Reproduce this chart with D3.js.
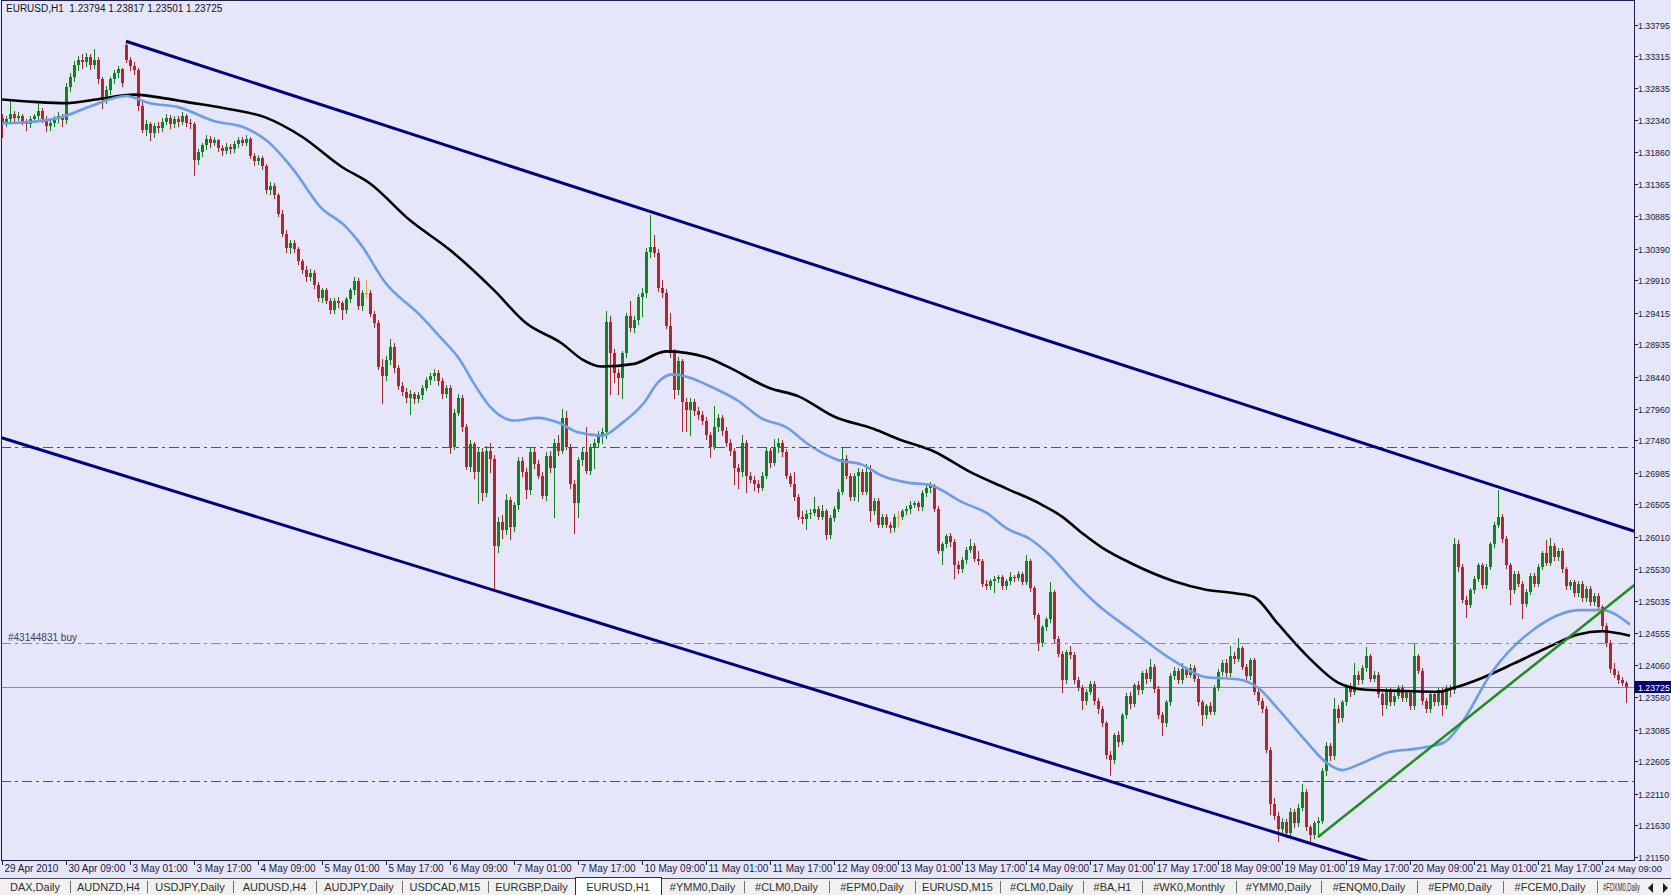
<!DOCTYPE html>
<html><head><meta charset="utf-8">
<script src="https://cdn.jsdelivr.net/npm/d3@7/dist/d3.min.js"></script>
<style>
html,body{margin:0;padding:0;background:#E6E6FA;overflow:hidden}
svg{display:block}
text{font-family:"Liberation Sans",Arial,sans-serif}
</style></head><body><svg id="c" width="1671" height="895"></svg>
<script>
// ---------- DATA (prices in pips: 13238 = 1.3238) ----------
const opens=[
13238,13230,13236,13244,13238,13241,13232,13228,13236,13240,
13248,13236,13226,13230,13236,13240,13234,13284,13300,13318,
13326,13322,13330,13318,13326,13296,13266,13280,13296,13306,
13312,13348,13326,13316,13310,13256,13220,13228,13214,13226,
13222,13232,13238,13228,13236,13232,13240,13230,13228,13174,
13186,13196,13206,13200,13204,13192,13188,13194,13190,13198,
13204,13200,13206,13180,13172,13176,13164,13128,13134,13120,
13092,13062,13040,13048,13038,13020,13006,12996,13002,12984,
12964,12976,12960,12946,12960,12956,12946,12962,12976,12990,
12952,12972,12972,12940,12926,12860,12846,12870,12890,12858,
12830,12822,12812,12818,12810,12816,12828,12840,12846,12850,
12838,12818,12828,12738,12790,12812,12768,12708,12742,12700,
12730,12668,12732,12720,12588,12624,12612,12658,12616,12650,
12716,12700,12672,12730,12712,12694,12664,12724,12706,12744,
12732,12782,12738,12682,12652,12718,12730,12702,12736,12744,
12756,12760,12928,12880,12850,12842,12880,12936,12918,12930,
12966,12972,13034,13042,13032,12980,12972,12922,12880,12824,
12868,12806,12794,12806,12792,12786,12778,12756,12738,12768,
12782,12762,12744,12732,12706,12700,12744,12694,12688,12682,
12676,12694,12731,12714,12738,12744,12730,12694,12682,12662,
12632,12628,12636,12638,12644,12632,12640,12604,12630,12644,
12670,12720,12694,12662,12694,12700,12670,12700,12640,12656,
12620,12632,12620,12614,12632,12632,12640,12644,12650,12652,
12646,12668,12675,12678,12644,12580,12590,12602,12594,12558,
12552,12566,12582,12588,12568,12564,12530,12526,12534,12538,
12540,12526,12534,12540,12539,12545,12533,12564,12523,12482,
12440,12464,12476,12517,12446,12424,12384,12426,12422,12384,
12372,12352,12366,12378,12352,12340,12318,12270,12262,12300,
12290,12330,12360,12348,12376,12368,12394,12386,12404,12370,
12330,12318,12350,12390,12398,12384,12400,12392,12402,12386,
12350,12330,12344,12336,12372,12396,12410,12394,12420,12416,
12432,12404,12390,12414,12366,12352,12340,12278,12196,12178,
12158,12168,12152,12184,12166,12190,12214,12160,12148,12166,
12170,12246,12284,12268,12340,12326,12350,12374,12366,12392,
12384,12402,12420,12386,12392,12362,12346,12368,12350,12360,
12372,12356,12364,12344,12420,12398,12352,12340,12362,12350,
12368,12346,12372,12368,12590,12556,12506,12498,12520,12538,
12558,12528,12556,12590,12620,12632,12598,12558,12520,12545,
12530,12500,12518,12542,12530,12556,12576,12562,12588,12570,
12580,12552,12526,12532,12516,12530,12508,12522,12502,12512,
12494,12466,12440,12400,12392,12384,12379.4];
const highs=[
13244,13240,13264,13248,13246,13244,13236,13240,13244,13264,
13252,13240,13234,13240,13246,13244,13290,13306,13324,13332,
13334,13336,13334,13342,13330,13300,13286,13300,13310,13316,
13314,13354,13330,13322,13314,13262,13234,13232,13230,13232,
13238,13244,13242,13240,13240,13247,13244,13236,13232,13190,
13200,13212,13210,13208,13206,13196,13200,13198,13202,13208,
13208,13212,13208,13184,13182,13180,13168,13140,13138,13124,
13098,13068,13052,13052,13042,13024,13012,13008,13006,12988,
12980,12980,12964,12964,12966,12960,12966,12980,12996,12994,
12976,12991,12976,12944,12930,12872,12876,12902,12896,12862,
12836,12828,12824,12822,12822,12832,12844,12850,12856,12854,
12842,12832,12832,12796,12818,12816,12772,12748,12746,12736,
12736,12740,12744,12726,12632,12634,12666,12662,12654,12722,
12722,12706,12736,12738,12718,12700,12730,12732,12750,12756,
12796,12793,12742,12688,12722,12736,12768,12742,12750,12762,
12766,12945,12936,12886,12856,12884,12942,12960,12936,12970,
12980,13040,13090,13060,13038,12992,12978,12942,12886,12874,
12872,12812,12812,12810,12798,12792,12784,12760,12800,12788,
12786,12768,12750,12736,12712,12756,12748,12700,12694,12688,
12700,12736,12736,12750,12752,12748,12734,12698,12700,12666,
12640,12642,12644,12662,12648,12650,12644,12634,12648,12674,
12737,12726,12698,12698,12706,12704,12712,12710,12660,12660,
12636,12636,12624,12636,12640,12644,12648,12656,12656,12656,
12672,12681,12685,12682,12648,12594,12606,12607,12598,12564,
12570,12586,12598,12592,12580,12568,12536,12538,12542,12544,
12544,12538,12548,12544,12550,12548,12573,12568,12527,12486,
12468,12480,12533,12521,12450,12428,12430,12436,12426,12388,
12376,12370,12382,12382,12356,12344,12322,12276,12304,12306,
12334,12364,12366,12380,12382,12398,12400,12416,12408,12374,
12336,12354,12394,12404,12402,12410,12404,12408,12406,12390,
12354,12348,12350,12376,12400,12414,12416,12436,12426,12448,
12436,12408,12418,12418,12370,12356,12344,12282,12204,12184,
12174,12172,12190,12188,12196,12226,12218,12164,12170,12176,
12250,12290,12288,12356,12346,12354,12378,12380,12410,12398,
12406,12434,12424,12398,12396,12366,12372,12372,12364,12376,
12376,12368,12368,12440,12424,12402,12356,12366,12366,12372,
12372,12376,12376,12600,12596,12560,12512,12524,12542,12562,
12562,12560,12594,12624,12672,12636,12602,12562,12550,12549,
12534,12522,12546,12546,12560,12580,12596,12600,12592,12584,
12584,12556,12536,12536,12534,12534,12526,12526,12516,12516,
12498,12470,12444,12410,12398,12388,12381.7];
const lows=[
13209,13226,13232,13232,13234,13228,13220,13224,13232,13236,
13232,13218,13220,13226,13232,13226,13230,13278,13294,13310,
13314,13316,13312,13314,13290,13252,13260,13274,13290,13300,
13286,13322,13310,13304,13250,13216,13212,13204,13208,13216,
13218,13228,13222,13224,13226,13228,13226,13222,13151,13168,
13180,13190,13194,13196,13188,13182,13184,13184,13186,13194,
13196,13196,13176,13166,13168,13160,13124,13122,13116,13088,
13058,13034,13032,13034,13016,13002,12990,12992,12980,12960,
12958,12956,12942,12942,12950,12932,12942,12958,12970,12948,
12946,12966,12936,12920,12856,12804,12840,12864,12852,12826,
12816,12806,12788,12804,12806,12810,12824,12834,12840,12832,
12812,12814,12728,12734,12786,12762,12704,12702,12690,12652,
12657,12664,12700,12521,12578,12600,12606,12598,12610,12644,
12694,12660,12666,12706,12690,12660,12658,12700,12632,12726,
12728,12734,12676,12607,12632,12710,12698,12696,12706,12740,
12744,12752,12818,12836,12818,12812,12874,12914,12912,12924,
12936,12966,13026,13028,12974,12966,12918,12874,12812,12818,
12762,12762,12756,12786,12780,12772,12750,12722,12734,12762,
12756,12740,12726,12681,12675,12694,12669,12684,12672,12670,
12672,12690,12708,12710,12730,12724,12690,12678,12658,12628,
12622,12613,12630,12634,12628,12628,12598,12600,12626,12640,
12666,12690,12658,12658,12656,12666,12666,12626,12636,12616,
12616,12616,12608,12610,12618,12628,12636,12638,12646,12642,
12642,12664,12670,12640,12576,12560,12586,12588,12539,12546,
12548,12562,12578,12564,12560,12526,12522,12522,12517,12532,
12522,12522,12530,12534,12535,12530,12529,12519,12478,12430,
12436,12460,12472,12442,12420,12365,12380,12418,12380,12368,
12340,12348,12362,12348,12334,12314,12266,12240,12258,12284,
12286,12326,12342,12344,12362,12364,12380,12382,12366,12326,
12300,12314,12346,12386,12380,12380,12388,12388,12382,12346,
12316,12326,12332,12332,12368,12392,12390,12390,12410,12412,
12400,12386,12386,12362,12348,12336,12274,12180,12172,12140,
12150,12146,12148,12160,12162,12186,12156,12140,12144,12146,
12166,12240,12262,12264,12320,12322,12346,12360,12362,12378,
12380,12398,12382,12382,12358,12330,12342,12346,12346,12356,
12352,12352,12340,12340,12394,12348,12336,12336,12346,12346,
12330,12342,12360,12364,12550,12502,12480,12494,12516,12534,
12524,12524,12552,12586,12616,12594,12554,12500,12516,12526,
12478,12496,12514,12526,12526,12552,12558,12558,12566,12566,
12548,12522,12522,12512,12512,12504,12504,12498,12498,12490,
12462,12436,12396,12388,12380,12376,12350.1];
const closes=[
13230,13236,13244,13238,13241,13232,13228,13236,13240,13248,
13236,13226,13230,13236,13240,13234,13284,13300,13318,13326,
13322,13330,13318,13326,13296,13266,13280,13296,13306,13312,
13290,13326,13316,13310,13256,13220,13228,13214,13226,13222,
13232,13238,13228,13236,13232,13240,13230,13228,13174,13186,
13196,13206,13200,13204,13192,13188,13194,13190,13198,13204,
13200,13206,13180,13172,13176,13164,13128,13134,13120,13092,
13062,13040,13048,13038,13020,13006,12996,13002,12984,12964,
12976,12960,12946,12960,12956,12946,12962,12976,12990,12952,
12972,12972,12940,12926,12860,12846,12870,12890,12858,12830,
12822,12812,12818,12810,12816,12828,12840,12846,12850,12838,
12818,12828,12738,12790,12812,12768,12708,12742,12700,12730,
12668,12732,12720,12588,12624,12612,12658,12616,12650,12716,
12700,12672,12730,12712,12694,12664,12724,12706,12744,12732,
12782,12738,12682,12652,12718,12730,12702,12736,12744,12756,
12760,12928,12880,12850,12842,12880,12936,12918,12930,12966,
12972,13034,13042,13032,12980,12972,12922,12880,12824,12868,
12806,12794,12806,12792,12786,12778,12756,12738,12768,12782,
12762,12744,12732,12706,12700,12744,12694,12688,12682,12676,
12694,12731,12714,12738,12744,12730,12694,12682,12662,12632,
12628,12636,12638,12644,12632,12640,12604,12630,12644,12670,
12720,12694,12662,12694,12700,12670,12700,12640,12656,12620,
12632,12620,12614,12632,12632,12640,12644,12650,12652,12646,
12668,12675,12678,12644,12580,12590,12602,12594,12558,12552,
12566,12582,12588,12568,12564,12530,12526,12534,12538,12540,
12526,12534,12540,12539,12545,12533,12564,12523,12482,12440,
12464,12476,12517,12446,12424,12384,12426,12422,12384,12372,
12352,12366,12378,12352,12340,12318,12270,12262,12300,12290,
12330,12360,12348,12376,12368,12394,12386,12404,12370,12330,
12318,12350,12390,12398,12384,12400,12392,12402,12386,12350,
12330,12344,12336,12372,12396,12410,12394,12420,12416,12432,
12404,12390,12414,12366,12352,12340,12278,12196,12178,12158,
12168,12152,12184,12166,12190,12214,12160,12148,12166,12170,
12246,12284,12268,12340,12326,12350,12374,12366,12392,12384,
12402,12420,12386,12392,12362,12346,12368,12350,12360,12372,
12356,12364,12344,12420,12398,12352,12340,12362,12350,12368,
12346,12372,12368,12590,12556,12506,12498,12520,12538,12558,
12528,12556,12590,12620,12632,12598,12558,12520,12545,12530,
12500,12518,12542,12530,12556,12576,12562,12588,12570,12580,
12552,12526,12532,12516,12530,12508,12522,12502,12512,12494,
12466,12440,12400,12392,12384,12379.4,12372.5];

// moving averages (bar index, price in pips)
const blackMABars  =[-1,8,16,24,33,40,46,56,66,75,85,92,102,112,123,131,140,145,150,158,166,176,181,192,199,208,218,224,233,242,251,260,265,270,275,282,293,301,309,313,319,327,334,341,351,359,363,370,378,386,394,400,407];
const blackMAValues=[13266,13262,13260,13266,13273,13268,13262,13252,13238,13209,13163,13138,13082,13037,12976,12926,12895,12871,12860,12864,12883,12874,12861,12827,12815,12784,12765,12750,12731,12700,12675,12650,12632,12607,12585,12562,12534,12521,12515,12510,12469,12416,12380,12369,12367,12366,12372,12387,12409,12432,12453,12458,12451];
const blueMABars   =[-1,9.5,14.5,22,31,37,44,53,61,66,73,79.5,86,89.5,96,104,109.5,114.5,118,122,128,134,139,144,150,155,160.5,164,167.5,172,177,184,190,196,202,209,215,220,226,232,240,246,251.5,257,262,268,274.5,282,293,301,309,314,319,326,331,335,340.5,346,354,360.5,364.5,372.5,383,394.5,400,407];
const blueMAValues =[13229,13233,13238,13255,13271,13260,13254,13233,13222,13204,13158,13103,13072,13047,12986,12941,12905,12870,12834,12799,12778,12782,12775,12760,12755,12774,12805,12836,12848,12843,12830,12808,12781,12768,12740,12718,12711,12694,12684,12680,12654,12638,12613,12598,12573,12533,12495,12461,12413,12388,12385,12372,12340,12291,12259,12247,12259,12273,12280,12289,12315,12396,12461,12490,12490,12468];

// drawn objects (bar index, price)
const upperChannel=[[31,1.3354],[407,1.2612]];
const lowerChannel=[[-0.5,1.27526],[322,1.21453]];
const greenTrend  =[[329,1.21453],[407,1.25226]];
const redLevels   =[1.2738,1.2230];
const buyLevel    =1.2440;
const buyLabel    ="#43144831 buy";
const bidPrice    =1.23725;
const header      ="EURUSD,H1  1.23794 1.23817 1.23501 1.23725";

const xTickLabels=["29 Apr 2010","30 Apr 09:00","3 May 01:00","3 May 17:00","4 May 09:00","5 May 01:00","5 May 17:00","6 May 09:00","7 May 01:00","7 May 17:00","10 May 09:00","11 May 01:00","11 May 17:00","12 May 09:00","13 May 01:00","13 May 17:00","14 May 09:00","17 May 01:00","17 May 17:00","18 May 09:00","19 May 01:00","19 May 17:00","20 May 09:00","21 May 01:00","21 May 17:00","24 May 09:00"];
const xTickEvery=16;
const yTickLabels=["1.33795","1.33315","1.32835","1.32340","1.31860","1.31365","1.30885","1.30390","1.29910","1.29415","1.28935","1.28440","1.27960","1.27480","1.26985","1.26505","1.26010","1.25530","1.25035","1.24555","1.24060","1.23580","1.23085","1.22605","1.22110","1.21630","1.21150"];
const tabs=["DAX,Daily","AUDNZD,H4","USDJPY,Daily","AUDUSD,H4","AUDJPY,Daily","USDCAD,M15","EURGBP,Daily","EURUSD,H1","#YMM0,Daily","#CLM0,Daily","#EPM0,Daily","EURUSD,M15","#CLM0,Daily","#BA,H1","#WK0,Monthly","#YMM0,Daily","#ENQM0,Daily","#EPM0,Daily","#FCEM0,Daily","#FDXM0,Daily"];
const activeTab=7;

// ---------- LAYOUT ----------
const W=1671,H=895;
const plot={l:1,t:1,r:1634,b:860};
const tabEdges=[0,70,147,233,316,402,488,575,661,744,829,915,1000,1083,1142,1236,1321,1417,1503,1597,1644];
const C={bg:"#E6E6FA",frame:"#1c1c4e",txt:"#1a1a40",up:"#10861a",down:"#b3262a",doji:"#e8a040",
  navy:"#00007f",blue:"#6d9ce8",black:"#000000",green:"#1e8e1e",red:"#e01818",lime:"#3cc23c",bid:"#8a8a9a"};

const svg=d3.select("#c");
const x=d3.scaleLinear().domain([0,406]).range([2,1626]);
const y=d3.scaleLinear().domain([1.21150,1.33795]).range([857,24.5]);
const P=v=>v/10000;

svg.append("rect").attr("width",W).attr("height",H).attr("fill",C.bg);
svg.append("defs").append("clipPath").attr("id","clip").append("rect")
  .attr("x",plot.l+1).attr("y",plot.t+1).attr("width",plot.r-plot.l-1).attr("height",plot.b-plot.t-1);
const g=svg.append("g").attr("clip-path","url(#clip)");

// bid line
g.append("line").attr("x1",plot.l).attr("x2",plot.r).attr("y1",Math.round(y(bidPrice))+0.5).attr("y2",Math.round(y(bidPrice))+0.5)
  .attr("stroke",C.bid).attr("stroke-width",1);

// candles
const data=d3.range(closes.length).map(i=>({i,o:P(opens[i]),h:P(highs[i]),l:P(lows[i]),c:P(closes[i])}));
const col=d=>d.c>d.o?C.up:(d.c<d.o?C.down:C.doji);
const cg=g.append("g").attr("shape-rendering","crispEdges");
cg.selectAll("rect.w").data(data).join("rect").attr("class","w")
  .attr("x",d=>Math.round(x(d.i))).attr("width",1)
  .attr("y",d=>Math.round(y(d.h)))
  .attr("height",d=>Math.max(1,Math.round(y(d.l))-Math.round(y(d.h))+1))
  .attr("fill",col);
cg.selectAll("rect.b").data(data).join("rect").attr("class","b")
  .attr("x",d=>Math.round(x(d.i))-1).attr("width",3)
  .attr("y",d=>Math.round(y(Math.max(d.o,d.c))))
  .attr("height",d=>Math.max(1,Math.round(y(Math.min(d.o,d.c)))-Math.round(y(Math.max(d.o,d.c)))))
  .attr("fill",col);

// moving averages
const maLine=d3.line().x(d=>x(d[0])).y(d=>y(P(d[1]))).curve(d3.curveMonotoneX);
g.append("path").attr("d",maLine(blackMABars.map((b,k)=>[b,blackMAValues[k]])))
  .attr("fill","none").attr("stroke",C.black).attr("stroke-width",2.6).attr("stroke-linejoin","round");
g.append("path").attr("d",maLine(blueMABars.map((b,k)=>[b,blueMAValues[k]])))
  .attr("fill","none").attr("stroke",C.blue).attr("stroke-width",2.6).attr("stroke-linejoin","round");

// horizontal levels
const dash="10,4,3,4";
redLevels.forEach(p=>{
  g.append("line").attr("x1",plot.l).attr("x2",plot.r).attr("y1",Math.round(y(p))+0.5).attr("y2",Math.round(y(p))+0.5)
   .attr("stroke",C.red).attr("stroke-width",1.2).attr("stroke-dasharray",dash);
});
g.append("line").attr("x1",plot.l).attr("x2",plot.r).attr("y1",Math.round(y(buyLevel))+0.5).attr("y2",Math.round(y(buyLevel))+0.5)
   .attr("stroke",C.lime).attr("stroke-width",1).attr("stroke-dasharray",dash);
g.append("text").attr("x",8).attr("y",Math.round(y(buyLevel))-2).attr("font-size",10).attr("fill","#3c3c5c").text(buyLabel);

// trend lines
function seg(pts,fromStart,toBar){
  const [a,b]=pts; const s=(b[1]-a[1])/(b[0]-a[0]);
  const b0=fromStart?a[0]:-2, b1=toBar;
  return [[b0,a[1]+s*(b0-a[0])],[b1,a[1]+s*(b1-a[0])]];
}
const tl=d3.line().x(d=>x(d[0])).y(d=>y(d[1]));
g.append("path").attr("d",tl(seg(upperChannel,true,410))).attr("stroke",C.navy).attr("stroke-width",3).attr("fill","none");
g.append("path").attr("d",tl(seg(lowerChannel,false,410))).attr("stroke",C.navy).attr("stroke-width",3).attr("fill","none");
g.append("path").attr("d",tl(seg(greenTrend,true,410))).attr("stroke",C.green).attr("stroke-width",2.5).attr("fill","none");

// header
svg.append("text").attr("x",6).attr("y",12).attr("font-size",10).attr("fill","#101030").attr("xml:space","preserve").text(header);

// frame
svg.append("rect").attr("x",plot.l+0.5).attr("y",plot.t-0.5).attr("width",plot.r-plot.l).attr("height",plot.b-plot.t+0.5)
  .attr("fill","none").attr("stroke",C.frame).attr("stroke-width",1).attr("shape-rendering","crispEdges");

// y axis
const ya=svg.append("g");
yTickLabels.forEach(t=>{
  const yy=Math.round(y(+t))+0.5;
  ya.append("line").attr("x1",plot.r+0.5).attr("x2",plot.r+3.5).attr("y1",yy).attr("y2",yy).attr("stroke",C.frame).attr("shape-rendering","crispEdges");
  ya.append("text").attr("x",plot.r+4).attr("y",yy+3.5).attr("font-size",8.8).attr("fill",C.txt).text(t);
});
// current price label
const by=Math.round(y(bidPrice));
svg.append("rect").attr("x",plot.r+1).attr("y",by-6).attr("width",W-plot.r).attr("height",12).attr("fill","#000070");
svg.append("text").attr("x",plot.r+4).attr("y",by+3.5).attr("font-size",8.8).attr("fill","#ffffff").text(bidPrice.toFixed(5));

// x axis
const xa=svg.append("g");
xTickLabels.forEach((t,k)=>{
  const xx=Math.round(x(k*xTickEvery))+0.5;
  xa.append("line").attr("x1",xx).attr("x2",xx).attr("y1",plot.b).attr("y2",plot.b+5).attr("stroke",C.frame).attr("shape-rendering","crispEdges");
  xa.append("text").attr("x",xx+2).attr("y",plot.b+12).attr("font-size",k===xTickLabels.length-1?9.5:10).attr("fill",C.txt).text(t);
});

// tab bar
const ty=878;
svg.append("rect").attr("x",0).attr("y",ty).attr("width",W).attr("height",H-ty).attr("fill","#f1f1f1");
svg.append("line").attr("x1",0).attr("x2",W).attr("y1",ty+0.5).attr("y2",ty+0.5).attr("stroke","#505050");
tabs.forEach((t,k)=>{
  const a=tabEdges[k], b=tabEdges[k+1];
  if(k===activeTab){
    svg.append("rect").attr("x",a+0.5).attr("y",ty-0.5).attr("width",b-a).attr("height",H-ty+1).attr("fill","#ffffff").attr("stroke","#303030").attr("shape-rendering","crispEdges");
  } else if(k+1!==activeTab && k<tabs.length-1){
    svg.append("line").attr("x1",b+0.5).attr("x2",b+0.5).attr("y1",ty+3).attr("y2",H-2).attr("stroke","#707070").attr("shape-rendering","crispEdges");
  }
  const last=k===tabs.length-1;
  const tt=svg.append("text").attr("x",last?a+6:(a+b)/2).attr("y",ty+13).attr("font-size",last?10:11)
    .attr("text-anchor",last?"start":"middle").attr("fill","#303030").text(t);
  if(last) tt.attr("textLength",b-a-10).attr("lengthAdjust","spacingAndGlyphs");
});
svg.append("path").attr("d","M1653,883 L1653,893 L1648,888 Z").attr("fill","#202020");
svg.append("path").attr("d","M1663,883 L1663,893 L1668,888 Z").attr("fill","#202020");
</script></body></html>
